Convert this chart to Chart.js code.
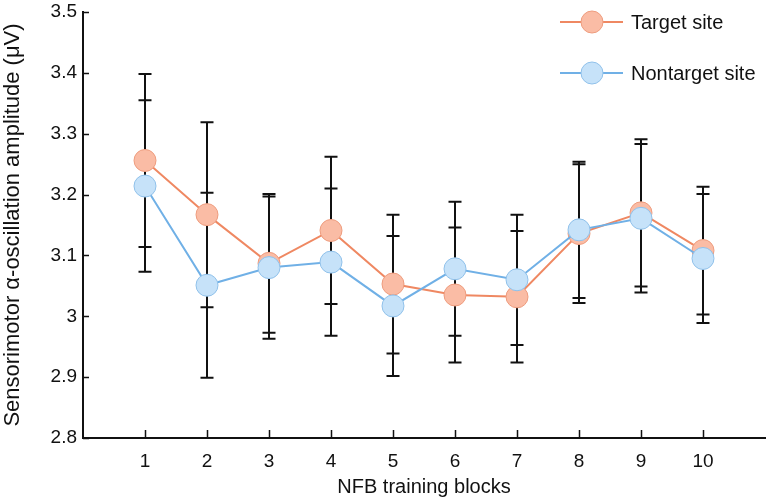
<!DOCTYPE html>
<html>
<head>
<meta charset="utf-8">
<script src="https://cdn.jsdelivr.net/npm/chart.js@4.4.1/dist/chart.umd.min.js"></script>
<style>
html,body{margin:0;padding:0;background:#fff;}
#wrap{width:766px;height:500px;}
</style>
</head>
<body>
<div id="wrap"><canvas id="c" width="766" height="500"></canvas></div>
<script>
const blocks = [1, 2, 3, 4, 5, 6, 7, 8, 9, 10];
const targetMean = [3.256, 3.167, 3.087, 3.141, 3.053, 3.035, 3.032, 3.136, 3.170, 3.108];
const targetSE = [0.142, 0.152, 0.114, 0.121, 0.114, 0.111, 0.108, 0.114, 0.121, 0.105];
const nontargetMean = [3.214, 3.051, 3.080, 3.089, 3.017, 3.078, 3.060, 3.142, 3.161, 3.095];
const nontargetSE = [0.141, 0.152, 0.117, 0.121, 0.115, 0.110, 0.107, 0.112, 0.122, 0.106];
const yTicks = [2.8, 2.9, 3.0, 3.1, 3.2, 3.3, 3.4, 3.5];
const seriesNames = ['Target site', 'Nontarget site'];
const xTitle = 'NFB training blocks';
const yTitle = 'Sensorimotor \u03B1-oscillation amplitude (\u03BCV)';

const FONT = "'Liberation Sans', Arial, Helvetica, sans-serif";
const orange = {line: '#EF8862', fill: '#FABCA5', border: '#EE9C7E'};
const blue = {line: '#70B0E6', fill: '#C6E2F9', border: '#90C1EA'};

function pts(means) { return blocks.map((b, i) => ({x: b, y: means[i]})); }

const errorBars = {
  id: 'errorBars',
  beforeDatasetsDraw(chart) {
    const ctx = chart.ctx;
    const xs = chart.scales.x, ys = chart.scales.y;
    const sets = [[targetMean, targetSE], [nontargetMean, nontargetSE]];
    ctx.save();
    ctx.strokeStyle = '#111';
    ctx.lineWidth = 2;
    sets.forEach(([m, se]) => {
      blocks.forEach((b, i) => {
        const px = xs.getPixelForValue(b);
        const top = ys.getPixelForValue(m[i] + se[i]);
        const bot = ys.getPixelForValue(m[i] - se[i]);
        ctx.beginPath();
        ctx.moveTo(px, top); ctx.lineTo(px, bot);
        ctx.moveTo(px - 6.5, top); ctx.lineTo(px + 6.5, top);
        ctx.moveTo(px - 6.5, bot); ctx.lineTo(px + 6.5, bot);
        ctx.stroke();
      });
    });
    ctx.restore();
  }
};

const innerTicks = {
  id: 'innerTicks',
  afterDraw(chart) {
    const ctx = chart.ctx;
    const xs = chart.scales.x, ys = chart.scales.y;
    const a = chart.chartArea;
    ctx.save();
    ctx.strokeStyle = '#111';
    ctx.lineWidth = 1.5;
    ctx.beginPath();
    yTicks.forEach(v => {
      const py = Math.round(ys.getPixelForValue(v)) + 0.5;
      ctx.moveTo(a.left, py); ctx.lineTo(a.left + 6, py);
    });
    blocks.forEach(b => {
      const px = Math.round(xs.getPixelForValue(b)) + 0.5;
      ctx.moveTo(px, a.bottom); ctx.lineTo(px, a.bottom - 8);
    });
    ctx.stroke();
    ctx.restore();
  }
};

const customLegend = {
  id: 'customLegend',
  afterDraw(chart) {
    const ctx = chart.ctx;
    const items = [[seriesNames[0], orange, 22], [seriesNames[1], blue, 73]];
    ctx.save();
    items.forEach(([label, c, y]) => {
      ctx.strokeStyle = c.line; ctx.lineWidth = 2;
      ctx.beginPath(); ctx.moveTo(560, y); ctx.lineTo(623, y); ctx.stroke();
      ctx.beginPath(); ctx.arc(592, y, 11, 0, Math.PI * 2);
      ctx.fillStyle = c.fill; ctx.fill();
      ctx.strokeStyle = c.border; ctx.lineWidth = 1; ctx.stroke();
      ctx.fillStyle = '#111';
      ctx.font = '20px ' + FONT;
      ctx.textBaseline = 'middle';
      ctx.textAlign = 'left';
      ctx.fillText(label, 631, y + 1);
    });
    ctx.restore();
  }
};

new Chart(document.getElementById('c'), {
  type: 'line',
  data: {
    datasets: [
      {
        label: seriesNames[0], data: pts(targetMean), order: 1,
        borderColor: orange.line, borderWidth: 2,
        pointRadius: 11, pointHoverRadius: 11,
        pointBackgroundColor: orange.fill, pointBorderColor: orange.border, pointBorderWidth: 1
      },
      {
        label: seriesNames[1], data: pts(nontargetMean), order: 0,
        borderColor: blue.line, borderWidth: 2,
        pointRadius: 11, pointHoverRadius: 11,
        pointBackgroundColor: blue.fill, pointBorderColor: blue.border, pointBorderWidth: 1
      }
    ]
  },
  options: {
    responsive: false,
    animation: false,
    devicePixelRatio: 1,
    layout: {autoPadding: false, padding: {top: 12, right: 1, left: 0, bottom: 0}},
    plugins: {legend: {display: false}, tooltip: {enabled: false}},
    scales: {
      x: {
        type: 'linear', min: 0, max: 11,
        grid: {display: false, drawTicks: false},
        border: {display: true, color: '#111', width: 2},
        ticks: {
          stepSize: 1, padding: 12, color: '#111', maxRotation: 0, autoSkip: false,
          font: {family: FONT, size: 19}
        },
        afterBuildTicks: s => { s.ticks = s.ticks.filter(t => t.value >= 1 && t.value <= 10); },
        title: {display: true, text: xTitle, color: '#111', font: {family: FONT, size: 20}, padding: {top: 1, bottom: 1}},
        afterFit: s => { s.height = 62; s.paddingLeft = 0; s.paddingRight = 0; }
      },
      y: {
        type: 'linear', min: 2.8, max: 3.5,
        grid: {display: false, drawTicks: false},
        border: {display: true, color: '#111', width: 2},
        ticks: {
          stepSize: 0.1, padding: 6, color: '#111',
          font: {family: FONT, size: 19},
          callback: v => String(parseFloat(Number(v).toFixed(1)))
        },
        title: {display: true, text: yTitle, color: '#111', font: {family: FONT, size: 22}, padding: {top: 0, bottom: 1}},
        afterFit: s => { s.width = 83; s.paddingTop = 0; s.paddingBottom = 0; }
      }
    }
  },
  plugins: [errorBars, innerTicks, customLegend]
});
</script>
</body>
</html>
